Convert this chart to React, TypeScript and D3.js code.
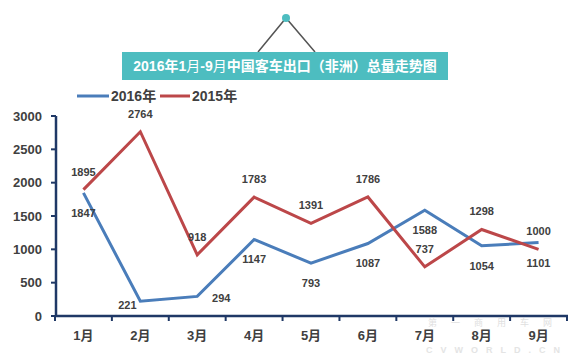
import React from "react";
import * as d3 from "d3";

const months = ["1月", "2月", "3月", "4月", "5月", "6月", "7月", "8月", "9月"];
const values2016 = [1847, 221, 294, 1147, 793, 1087, 1588, 1054, 1101];
const values2015 = [1895, 2764, 918, 1783, 1391, 1786, 737, 1298, 1000];
const yTicks = [0, 500, 1000, 1500, 2000, 2500, 3000];
const seriesNames = ["2016年", "2015年"];

// label nudges (layout only)
const blueDx = [0, -13, 24, 0, 0, 0, 0, 0, 0];
const blueDy = [20, 4, 2, 20, 20, 20, 20, 20, 20];
const redDx = [0, 0, 0, 0, 0, 0, 0, 0, 0];
const redDy = [-18, -18, -18, -18, -18, -18, -18, -18, -18];

const W = 578;
const H = 363;
const BLUE = "#4a7dba";
const RED = "#bc4749";
const AXIS = "#1f3866";
const TEXT = "#404040";
const FONT = "'Liberation Sans', Arial, 'Noto Sans CJK SC', sans-serif";
const CJK = "'Liberation Sans', 'Noto Sans CJK SC', sans-serif";

export default function App() {
  const x = d3.scaleBand<string>().domain(months).range([55, 567]);
  const y = d3.scaleLinear().domain([0, 3000]).range([316, 116]);
  const cx = (m: string) => (x(m) as number) + x.bandwidth() / 2;

  const line = d3
    .line<number>()
    .x((_, i) => cx(months[i]))
    .y((d) => y(d));

  const bounds = months.map((m) => x(m) as number).concat([567]);

  return (
    <svg
      width={W}
      height={H}
      style={{ position: "absolute", left: 0, top: 0, background: "#fff" }}
      fontFamily={FONT}
    >
      {/* title decoration */}
      <polyline points="258,52 286,18 315,52" fill="none" stroke="#555" strokeWidth={1.5} />
      <circle cx={286} cy={18} r={4} fill="#4dbdc0" />
      <rect x={122} y={52} width={326} height={28} fill="#4dbdc0" />
      <text x={285} y={66} dy="0.36em" textAnchor="middle" fill="#fff" fontSize={14} fontFamily={CJK} fontWeight="bold">
        <tspan>2016年1</tspan>
        <tspan fontWeight="normal">月</tspan>
        <tspan>-9</tspan>
        <tspan fontWeight="normal">月</tspan>
        <tspan>中国客车出口（非洲）总量走势图</tspan>
      </text>

      {/* legend */}
      <line x1={77} x2={109} y1={96} y2={96} stroke={BLUE} strokeWidth={3} />
      <text x={111} y={96} dy="0.36em" fontSize={14} fontWeight="bold" fill={TEXT} fontFamily={CJK}>
        {seriesNames[0]}
      </text>
      <line x1={160} x2={190} y1={96} y2={96} stroke={RED} strokeWidth={3} />
      <text x={192} y={96} dy="0.36em" fontSize={14} fontWeight="bold" fill={TEXT} fontFamily={CJK}>
        {seriesNames[1]}
      </text>

      {/* watermark (drawn behind the axis) */}
      <text x={497} y={323} dy="0.36em" textAnchor="middle" fontSize={9} fill="#e0e0e0" letterSpacing={14} fontFamily={CJK}>
        第一商用车网
      </text>
      <text x={497} y={350} dy="0.36em" textAnchor="middle" fontSize={9} fontWeight="bold" fill="#e4e4e4" letterSpacing={8}>
        CVWORLD.CN
      </text>

      {/* y axis */}
      {yTicks.map((t) => (
        <g key={t}>
          <line x1={51} x2={56} y1={y(t)} y2={y(t)} stroke={AXIS} strokeWidth={2} />
          <text x={42} y={y(t)} dy="0.36em" textAnchor="end" fontSize={13} fontWeight="bold" fill={TEXT}>
            {t}
          </text>
        </g>
      ))}
      <line x1={56} x2={56} y1={y(3000)} y2={y(0) + 1} stroke={AXIS} strokeWidth={2.5} />

      {/* x axis */}
      <line x1={55} x2={568} y1={y(0)} y2={y(0)} stroke={AXIS} strokeWidth={2.5} />
      {bounds.map((b, i) => (
        <line key={i} x1={b} x2={b} y1={y(0)} y2={y(0) + 5} stroke={AXIS} strokeWidth={2} />
      ))}
      {months.map((m) => (
        <text key={m} x={cx(m)} y={335} dy="0.36em" textAnchor="middle" fontSize={13} fontWeight="bold" fill={TEXT} fontFamily={CJK}>
          {m}
        </text>
      ))}

      {/* lines */}
      <path d={line(values2016) || ""} fill="none" stroke={BLUE} strokeWidth={3} strokeLinejoin="miter" />
      <path d={line(values2015) || ""} fill="none" stroke={RED} strokeWidth={3} strokeLinejoin="miter" />

      {/* data labels */}
      {values2016.map((v, i) => (
        <text key={"b" + i} x={cx(months[i]) + blueDx[i]} y={y(v) + blueDy[i]} dy="0.36em" textAnchor="middle" fontSize={11} fontWeight="bold" fill={TEXT}>
          {v}
        </text>
      ))}
      {values2015.map((v, i) => (
        <text key={"r" + i} x={cx(months[i]) + redDx[i]} y={y(v) + redDy[i]} dy="0.36em" textAnchor="middle" fontSize={11} fontWeight="bold" fill={TEXT}>
          {v}
        </text>
      ))}
    </svg>
  );
}
